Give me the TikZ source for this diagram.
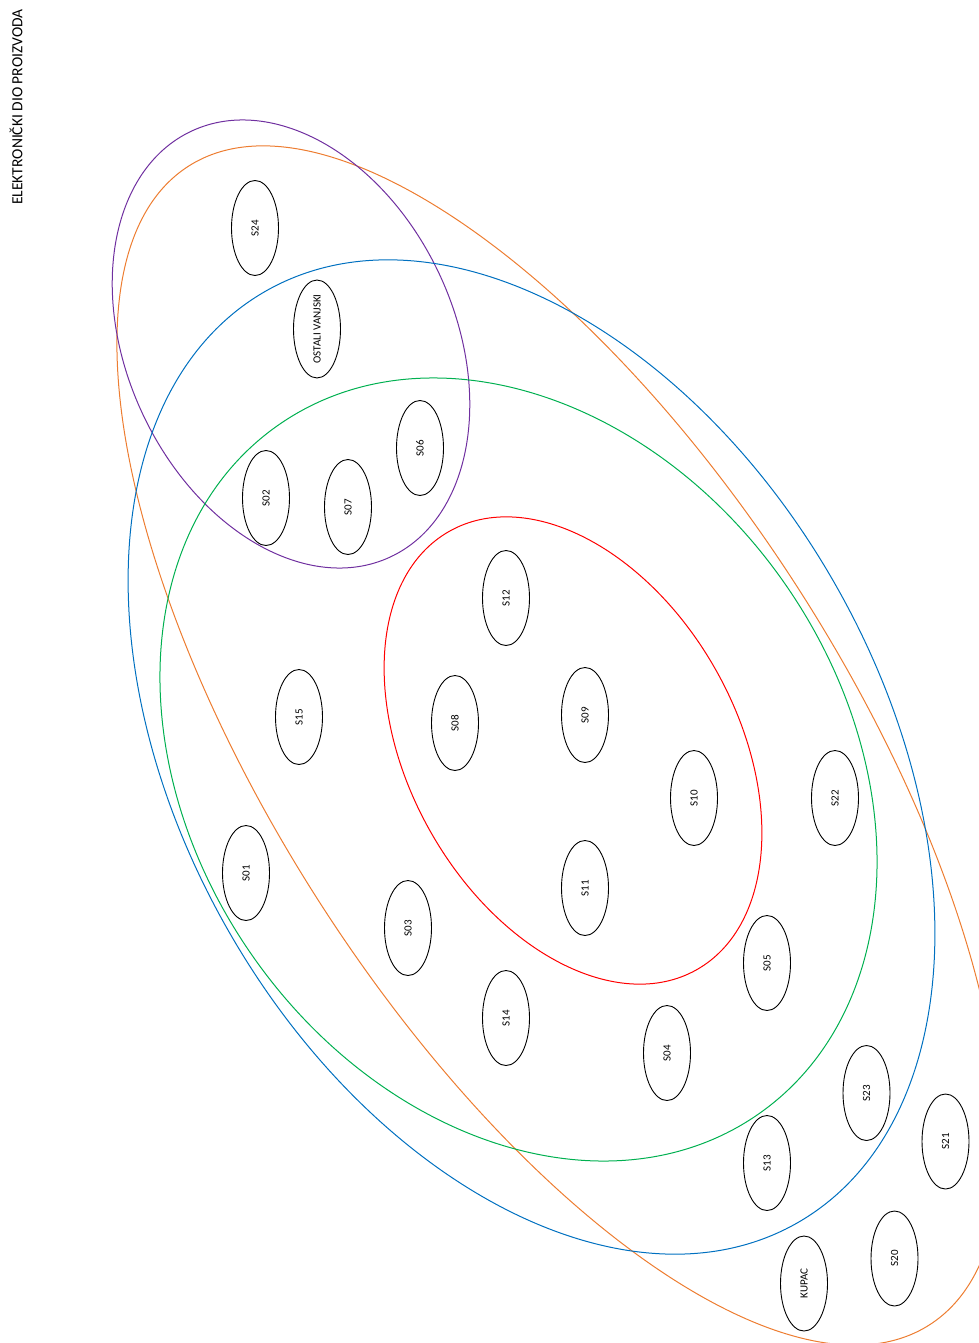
\documentclass[tikz,border=0pt]{standalone}
\usepackage{fontspec}
\setmainfont{Carlito}
\usetikzlibrary{shapes.geometric}
\definecolor{cpurple}{RGB}{112,48,160}
\definecolor{corange}{RGB}{237,125,49}
\definecolor{cblue}{RGB}{0,112,192}
\definecolor{cgreen}{RGB}{0,176,80}
\definecolor{cred}{RGB}{255,0,0}
\tikzset{
  sbox/.style={draw=black, ellipse, rotate=90, minimum width=95pt, minimum height=47pt, inner sep=0pt, line width=0.9pt, font=\fontsize{11}{12}\selectfont},
  bigell/.style={line width=1pt},
}
\begin{document}
\begin{tikzpicture}[x=1pt,y=-1pt]
\useasboundingbox (0,0) rectangle (979,1343);
\begin{scope}
\clip (0,0) rectangle (979,1343);
\draw[bigell, corange, rotate around={-57.4:(559,745.5)}] (559,745.5) ellipse [x radius=687.7, y radius=286.2];
\draw[bigell, cpurple, rotate around={-65:(291,344)}] (291,344) ellipse [x radius=235, y radius=164];
\draw[bigell, cblue, rotate around={-60.3:(531.5,757)}] (531.5,757) ellipse [x radius=536.4, y radius=349.4];
\draw[bigell, cgreen, rotate around={-55.2:(518.5,769.5)}] (518.5,769.5) ellipse [x radius=419.9, y radius=324.8];
\draw[bigell, cred, rotate around={-60.6:(573,750.5)}] (573,750.5) ellipse [x radius=251.7, y radius=164];
\end{scope}
\node[rotate=90, font=\fontsize{15.5}{16}\selectfont] (title) at (16,107) {ELEKTRONIČKI DIO PROIZVODA};
\node[sbox] (s24) at (255,228) {S24};
\node[sbox] (ost) at (317,329) {OSTALI VANJSKI};
\node[sbox] (s06) at (420,448) {S06};
\node[sbox] (s02) at (266,498) {S02};
\node[sbox] (s07) at (348,507) {S07};
\node[sbox] (s12) at (506,598) {S12};
\node[sbox] (s15) at (299,717) {S15};
\node[sbox] (s08) at (455,723) {S08};
\node[sbox] (s09) at (585,715) {S09};
\node[sbox] (s10) at (694,798) {S10};
\node[sbox] (s22) at (835,798) {S22};
\node[sbox] (s01) at (246,873) {S01};
\node[sbox] (s11) at (585,888) {S11};
\node[sbox] (s03) at (408,928) {S03};
\node[sbox] (s05) at (767,963) {S05};
\node[sbox] (s14) at (506,1018) {S14};
\node[sbox] (s04) at (667,1053) {S04};
\node[sbox] (s23) at (866.5,1093) {S23};
\node[sbox] (s21) at (945.5,1141.5) {S21};
\node[sbox] (s13) at (767,1163) {S13};
\node[sbox] (s20) at (894.5,1258.5) {S20};
\node[sbox] (kupac) at (804,1283.5) {KUPAC};
\end{tikzpicture}
\end{document}
